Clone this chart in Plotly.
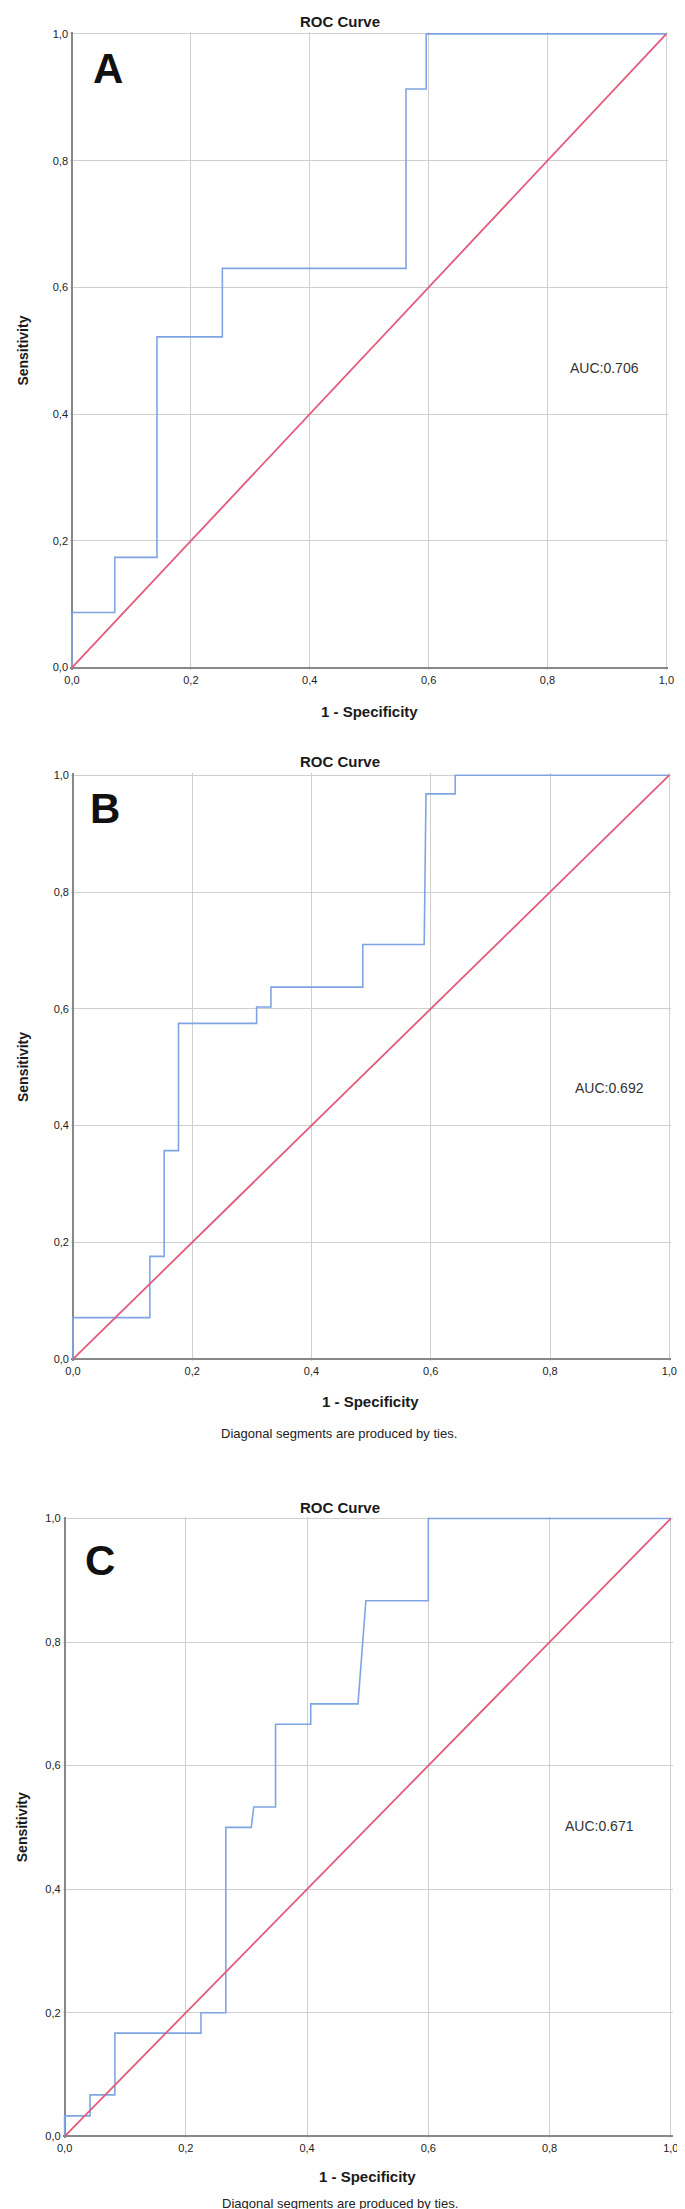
import plotly.graph_objects as go

# ---------------- data ----------------
fpr_a = [0, 0, 0.072, 0.072, 0.143, 0.143, 0.253, 0.253, 0.562, 0.562, 0.596, 0.596, 1.0]
tpr_a = [0, 0.087, 0.087, 0.174, 0.174, 0.522, 0.522, 0.630, 0.630, 0.913, 0.913, 1.0, 1.0]

fpr_b = [0, 0, 0.129, 0.129, 0.153, 0.153, 0.177, 0.177, 0.308, 0.308, 0.332, 0.332,
         0.486, 0.486, 0.589, 0.592, 0.641, 0.641, 1.0]
tpr_b = [0, 0.071, 0.071, 0.176, 0.176, 0.357, 0.357, 0.575, 0.575, 0.603, 0.603, 0.637,
         0.637, 0.710, 0.710, 0.968, 0.968, 1.0, 1.0]

fpr_c = [0, 0, 0.042, 0.042, 0.083, 0.083, 0.225, 0.225, 0.266, 0.266, 0.308, 0.312,
         0.348, 0.348, 0.406, 0.406, 0.484, 0.497, 0.600, 0.600, 1.0]
tpr_c = [0, 0.033, 0.033, 0.067, 0.067, 0.167, 0.167, 0.200, 0.200, 0.500, 0.500, 0.533,
         0.533, 0.667, 0.667, 0.700, 0.700, 0.867, 0.867, 1.0, 1.0]

ref_x = [0, 1]
ref_y = [0, 1]

panel_letters = ["A", "B", "C"]
auc_labels = ["AUC:0.706", "AUC:0.692", "AUC:0.671"]
chart_title = "ROC Curve"
x_title = "1 - Specificity"
y_title = "Sensitivity"
footnote = "Diagonal segments are produced by ties."
tick_vals = [0, 0.2, 0.4, 0.6, 0.8, 1.0]
tick_text = ["0,0", "0,2", "0,4", "0,6", "0,8", "1,0"]

curves = [(fpr_a, tpr_a), (fpr_b, tpr_b), (fpr_c, tpr_c)]
has_footnote = [False, True, True]

# ---------------- layout (pixel positions) ----------------
W, H = 685, 2209
frames = [(59, 664, 22, 658), (60, 667, 766, 1352), (51.5, 668.5, 1512, 2132)]
title_pos = [(332, 9.5), (332, 752.5), (332, 1501)]
letter_pos = [(96, 57), (93, 799), (88, 1554)]
auc_pos = [(601, 357), (606, 1080), (596, 1821)]
xtitle_pos = [(362, 702), (363, 1395), (360, 2172)]
foot_pos = [None, (331, 1427), (332, 2199)]
ytitle_x = 9

FONT = "Liberation Sans, Arial, sans-serif"
BLUE = "#7ea5e2"
RED = "#e25b7c"
GRID = "#cfcfcf"
AXIS = "#888888"
PAD = 2.0

def fx(p):
    return p / W

def fy(p):
    return 1 - p / H

fig = go.Figure()
annotations = []
layout_axes = {}

for i, ((x0, x1, ytop, ybot), (fx_data, ty_data)) in enumerate(zip(frames, curves)):
    n = i + 1
    xa = "x" if n == 1 else f"x{n}"
    ya = "y" if n == 1 else f"y{n}"
    wpx = x1 - x0
    hpx = ybot - ytop
    layout_axes[f"xaxis{'' if n == 1 else n}"] = dict(
        domain=[fx(x0 - PAD), fx(x1 + PAD)],
        range=[-PAD / wpx, 1 + PAD / wpx],
        anchor=ya, tickvals=tick_vals, ticktext=tick_text,
        showgrid=True, gridcolor=GRID, gridwidth=1.3,
        zeroline=True, zerolinecolor=AXIS, zerolinewidth=2,
        showline=False, ticks="", fixedrange=True,
        tickfont=dict(family=FONT, size=11, color="#222222"),
        ticklabelstandoff=2,
    )
    layout_axes[f"yaxis{'' if n == 1 else n}"] = dict(
        domain=[fy(ybot + PAD), fy(ytop - PAD)],
        range=[-PAD / hpx, 1 + PAD / hpx],
        anchor=xa, tickvals=tick_vals, ticktext=tick_text,
        showgrid=True, gridcolor=GRID, gridwidth=1.3,
        zeroline=True, zerolinecolor=AXIS, zerolinewidth=2,
        showline=False, ticks="", fixedrange=True,
        tickfont=dict(family=FONT, size=11, color="#222222"),
        ticklabelstandoff=1,
    )
    fig.add_trace(go.Scatter(x=fx_data, y=ty_data, mode="lines", xaxis=xa, yaxis=ya,
                             line=dict(color=BLUE, width=1.6), showlegend=False,
                             hoverinfo="skip"))
    fig.add_trace(go.Scatter(x=ref_x, y=ref_y, mode="lines", xaxis=xa, yaxis=ya,
                             line=dict(color=RED, width=1.8), showlegend=False,
                             hoverinfo="skip"))

    def ann(text, px, py, size, bold=False, angle=0, color="#1a1a1a"):
        annotations.append(dict(
            text=f"<b>{text}</b>" if bold else text,
            x=fx(px), y=fy(py), xref="paper", yref="paper",
            xanchor="center", yanchor="middle", showarrow=False, textangle=angle,
            font=dict(family=FONT, size=size, color=color)))

    ann(chart_title, *title_pos[i], 15, bold=True)
    ann(panel_letters[i], *letter_pos[i], 42, bold=True, color="#111111")
    ann(auc_labels[i], *auc_pos[i], 14, color="#333333")
    ann(x_title, *xtitle_pos[i], 15, bold=True)
    ann(y_title, ytitle_x, (ytop + ybot) / 2, 14, bold=True, angle=-90)
    if has_footnote[i]:
        ann(footnote, *foot_pos[i], 13, color="#222222")

fig.update_layout(
    width=W, height=H, margin=dict(l=0, r=0, t=0, b=0),
    paper_bgcolor="white", plot_bgcolor="white",
    showlegend=False, annotations=annotations, **layout_axes,
)

fig.write_html("out.html")
